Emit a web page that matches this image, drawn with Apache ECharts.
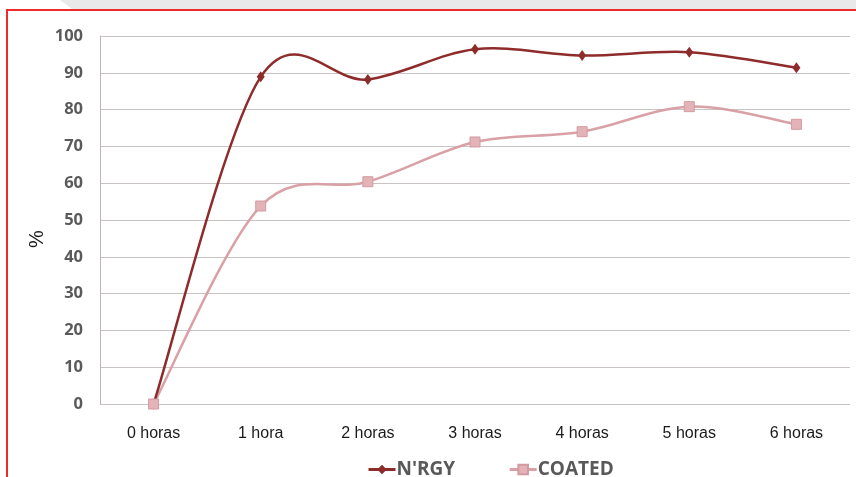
<!DOCTYPE html>
<html>
<head>
<meta charset="utf-8">
<script src="https://cdn.jsdelivr.net/npm/echarts@6/dist/echarts.min.js"></script>
<style>
  html, body { margin: 0; padding: 0; background: #ffffff; }
  #chart { width: 856px; height: 477px; }
</style>
</head>
<body>
<div id="chart"></div>
<script>
// Time points of the measurement
const categories = ['0 horas', '1 hora', '2 horas', '3 horas', '4 horas', '5 horas', '6 horas'];
// Percentage values per product
const nrgyValues = [0, 88.9, 88.2, 96.4, 94.7, 95.6, 91.4];
const coatedValues = [0, 53.8, 60.4, 71.2, 74.0, 80.8, 76.0];
const seriesNames = ["N'RGY", 'COATED'];
const yTicks = { min: 0, max: 100, interval: 10 };

const nrgyColor = '#8e2b2b';
const coatedLine = '#d9a1a6';

// Catmull-Rom style smoothed segment between point i and i+1,
// positioned with the chart's own coordinate system.
function smoothSegment(values, color, width) {
  return function (params, api) {
    const i = params.dataIndex;
    const n = values.length;
    const p = k => {
      const kk = Math.max(0, Math.min(n - 1, k));
      return api.coord([kk, values[kk]]);
    };
    const p0 = p(i - 1), p1 = p(i), p2 = p(i + 1), p3 = p(i + 2);
    const c1 = [p1[0] + (p2[0] - p0[0]) / 6, p1[1] + (p2[1] - p0[1]) / 6];
    const c2 = [p2[0] - (p3[0] - p1[0]) / 6, p2[1] - (p3[1] - p1[1]) / 6];
    return {
      type: 'bezierCurve',
      shape: { x1: p1[0], y1: p1[1], x2: p2[0], y2: p2[1], cpx1: c1[0], cpy1: c1[1], cpx2: c2[0], cpy2: c2[1] },
      style: { stroke: color, lineWidth: width, fill: null },
      silent: true
    };
  };
}

function segmentData(values) {
  return values.slice(0, -1).map((v, i) => [i, v]);
}

const chart = echarts.init(document.getElementById('chart'), null, { renderer: 'canvas' });

const option = {
  animation: false,
  backgroundColor: '#ffffff',
  graphic: [
    // grey header strip with a white wedge on the left
    { type: 'rect', shape: { x: 0, y: 0, width: 856, height: 9 }, style: { fill: '#e9e9e9' }, z: -1 },
    { type: 'polygon', shape: { points: [[0, 0], [60, 0], [72, 9], [0, 9]] }, style: { fill: '#ffffff' }, z: -1 },
    // red frame
    { type: 'rect', shape: { x: 7, y: 10, width: 856, height: 480 }, style: { fill: 'none', stroke: '#ee2a2a', lineWidth: 2 }, z: 10 },
    // y axis title
    { type: 'text', x: 37, y: 239, rotation: Math.PI / 2, style: { text: '%', font: '20px "Liberation Sans", Arial, sans-serif', fill: '#1a1a1a', align: 'center', verticalAlign: 'middle' } }
  ],
  grid: { left: 100, right: 6, top: 36, bottom: 73 },
  legend: {
    top: 455,
    left: 362,
    itemGap: 53,
    itemWidth: 27,
    itemHeight: 12,
    data: [
      { name: seriesNames[0], lineStyle: { color: nrgyColor, width: 3, opacity: 1 } },
      { name: seriesNames[1], lineStyle: { color: coatedLine, width: 3, opacity: 1 } }
    ],
    textStyle: { fontFamily: '"Open Sans", sans-serif', fontWeight: 'bold', fontSize: 19, color: '#595959', padding: [0, 0, 0, -4] }
  },
  xAxis: {
    type: 'category',
    data: categories,
    boundaryGap: true,
    axisLine: { show: false },
    axisTick: { show: false },
    axisLabel: { color: '#1a1a1a', fontSize: 16, fontFamily: '"Liberation Sans", Arial, sans-serif', margin: 22 }
  },
  yAxis: {
    type: 'value',
    min: yTicks.min,
    max: yTicks.max,
    interval: yTicks.interval,
    axisLine: { show: true, lineStyle: { color: '#bdb5b5', width: 1 } },
    axisTick: { show: false },
    splitLine: { lineStyle: { color: '#c9c3c3', width: 1 } },
    axisLabel: { color: '#5a5a5a', fontSize: 16.5, fontWeight: 'bold', fontFamily: '"Open Sans", sans-serif', margin: 17 }
  },
  series: [
    {
      type: 'custom',
      renderItem: smoothSegment(nrgyValues, nrgyColor, 2.5),
      data: segmentData(nrgyValues),
      encode: { x: 0, y: 1 },
      z: 3,
      silent: true
    },
    {
      type: 'custom',
      renderItem: smoothSegment(coatedValues, coatedLine, 2.5),
      data: segmentData(coatedValues),
      encode: { x: 0, y: 1 },
      z: 2,
      silent: true
    },
    {
      name: seriesNames[0],
      type: 'line',
      data: nrgyValues,
      symbol: 'diamond',
      symbolSize: [8, 11],
      lineStyle: { color: nrgyColor, width: 2.5, opacity: 0 },
      itemStyle: { color: nrgyColor },
      z: 4
    },
    {
      name: seriesNames[1],
      type: 'line',
      data: coatedValues,
      symbol: 'rect',
      symbolSize: 10,
      lineStyle: { color: coatedLine, width: 2.5, opacity: 0 },
      itemStyle: { color: '#e2b4b8', borderColor: '#d39aa0', borderWidth: 1 },
      z: 5
    }
  ]
};

chart.setOption(option);
</script>
</body>
</html>
